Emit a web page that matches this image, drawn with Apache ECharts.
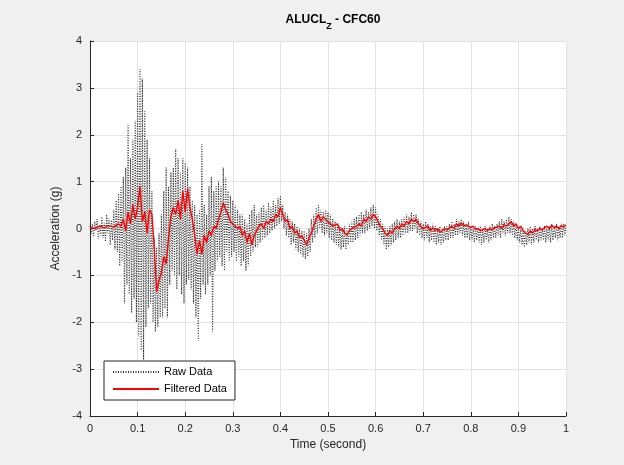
<!DOCTYPE html>
<html><head><meta charset="utf-8">
<script src="https://cdn.jsdelivr.net/npm/echarts@6/dist/echarts.min.js"></script>
<style>html,body{margin:0;padding:0;background:#f0f0f0;}#c{width:624px;height:465px;}</style>
</head><body><div id="c"></div>
<script>
// Raw data: sampled every 0.0025 s from t = 0 to 1
var rawStep = 0.0025;
var rawValues = [
0.05,-0.12,0.1,-0.18,0.15,-0.05,0.2,-0.22,0.08,-0.15,0.25,-0.2,0.12,-0.28,0.3,-0.1,0.22,-0.35,0.18,-0.25,
0.4,-0.45,0.6,-0.5,0.75,-0.8,0.9,-0.7,1.1,-1.6,1.3,-1.2,2.2,-1.4,1.5,-1.8,1.9,-1.5,2.3,-2.0,
2.9,-2.3,3.4,-2.6,3.2,-2.8,2.5,-2.1,1.9,-1.7,1.5,-1.6,0.8,-2.0,-0.2,-2.2,-0.4,-2.1,-0.1,-1.9,
0.3,-1.9,0.8,-1.7,1.3,-1.9,0.9,-1.2,1.2,-0.9,1.3,-1.0,1.7,-1.3,1.5,-1.0,1.2,-1.4,1.5,-1.6,
1.4,-1.2,1.3,-1.1,0.9,-1.3,0.6,-1.6,0.5,-1.9,0.3,-2.4,0.4,-1.5,1.8,-1.2,0.5,-1.4,0.3,-1.2,
0.9,-1.0,1.1,-2.2,0.8,-0.9,0.9,-0.7,1.0,-0.6,0.9,-0.8,1.3,-0.9,1.1,-0.5,0.8,-0.7,0.7,-0.6,
0.6,-0.5,0.5,-0.7,0.4,-0.6,0.3,-0.8,0.3,-0.7,0.2,-0.9,0.1,-0.8,0.3,-0.6,0.4,-0.5,0.5,-0.4,
0.3,-0.4,0.35,-0.3,0.45,-0.25,0.5,-0.2,0.4,-0.15,0.55,-0.1,0.45,-0.05,0.6,0.0,0.5,0.05,0.65,0.1,
0.7,0.15,0.5,0.0,0.35,-0.15,0.3,-0.2,0.2,-0.35,0.15,-0.3,0.1,-0.45,0.05,-0.5,0.0,-0.55,-0.05,-0.6,
-0.05,-0.65,-0.1,-0.6,0.0,-0.5,0.2,-0.3,0.3,-0.2,0.45,-0.1,0.5,0.0,0.4,-0.1,0.35,-0.15,0.4,-0.1,
0.35,-0.2,0.3,-0.25,0.2,-0.3,0.15,-0.35,0.1,-0.4,0.05,-0.45,0.0,-0.4,0.05,-0.45,0.0,-0.35,0.1,-0.3,
0.15,-0.3,0.2,-0.25,0.25,-0.2,0.3,-0.15,0.35,-0.1,0.3,-0.1,0.4,-0.05,0.35,0.0,0.45,0.05,0.5,0.0,
0.45,-0.05,0.3,-0.15,0.2,-0.25,0.1,-0.35,0.05,-0.45,0.0,-0.4,0.05,-0.35,0.1,-0.3,0.15,-0.25,0.2,-0.2,
0.15,-0.2,0.2,-0.15,0.25,-0.1,0.3,-0.1,0.25,-0.05,0.35,-0.05,0.3,0.0,0.3,-0.1,0.2,-0.15,0.15,-0.2,
0.1,-0.25,0.15,-0.2,0.1,-0.3,0.05,-0.25,0.1,-0.3,0.05,-0.35,0.0,-0.3,0.05,-0.35,0.0,-0.3,0.05,-0.25,
0.05,-0.25,0.1,-0.2,0.15,-0.2,0.1,-0.15,0.2,-0.15,0.15,-0.1,0.2,-0.15,0.15,-0.2,0.1,-0.2,0.15,-0.25,
0.05,-0.25,0.0,-0.3,0.05,-0.25,0.0,-0.3,0.05,-0.35,0.0,-0.3,0.05,-0.25,0.0,-0.3,0.05,-0.25,0.1,-0.2,
0.05,-0.2,0.1,-0.15,0.15,-0.2,0.2,-0.1,0.15,-0.15,0.2,-0.1,0.25,-0.1,0.2,-0.15,0.15,-0.2,0.1,-0.25,
0.05,-0.3,0.0,-0.35,0.0,-0.4,-0.05,-0.35,0.0,-0.3,0.05,-0.35,0.0,-0.3,0.05,-0.25,0.0,-0.3,0.05,-0.25,
0.0,-0.25,0.05,-0.3,0.0,-0.25,0.05,-0.3,0.1,-0.25,0.05,-0.2,0.1,-0.25,0.05,-0.2,0.1,-0.2,0.1,-0.15,
0.05
];
var filtTime = [
0,0.01,0.02,0.03,0.04,0.05,0.06,0.065,0.07,0.075,0.08,0.085,0.09,0.095,0.1,0.105,0.11,0.115,0.12,0.125,
0.13,0.135,0.14,0.145,0.15,0.155,0.16,0.165,0.17,0.175,0.18,0.185,0.19,0.195,0.2,0.205,0.21,0.215,0.22,0.225,
0.23,0.235,0.24,0.245,0.25,0.255,0.26,0.265,0.27,0.275,0.28,0.285,0.29,0.295,0.3,0.31,0.315,0.32,0.325,0.33,
0.335,0.34,0.345,0.35,0.355,0.36,0.365,0.37,0.375,0.38,0.385,0.39,0.395,0.4,0.405,0.41,0.415,0.42,0.425,0.43,
0.435,0.44,0.445,0.45,0.455,0.46,0.465,0.47,0.475,0.48,0.485,0.49,0.495,0.5,0.51,0.52,0.525,0.53,0.535,0.54,
0.545,0.55,0.56,0.565,0.57,0.575,0.58,0.585,0.59,0.595,0.6,0.605,0.61,0.615,0.62,0.625,0.63,0.635,0.64,0.645,
0.65,0.655,0.66,0.665,0.67,0.675,0.68,0.685,0.69,0.695,0.7,0.71,0.715,0.72,0.725,0.73,0.735,0.74,0.745,0.75,
0.76,0.765,0.77,0.775,0.78,0.785,0.79,0.8,0.805,0.81,0.815,0.82,0.83,0.835,0.84,0.845,0.85,0.86,0.865,0.87,
0.875,0.88,0.885,0.89,0.895,0.9,0.905,0.91,0.915,0.92,0.925,0.93,0.935,0.94,0.945,0.95,0.955,0.96,0.965,0.97,
0.975,0.98,0.985,0.99,0.995,1.0
];
var filtValues = [
0.02,0.0,0.05,0.02,0.06,0.03,0.1,0.05,0.2,-0.05,0.35,0.1,0.5,0.2,0.45,0.9,0.15,0.35,-0.1,0.4,
0.3,-0.4,-1.35,-1.1,-0.95,-0.6,-0.75,-0.2,0.25,0.45,0.3,0.6,0.2,0.8,0.35,0.85,0.45,0.2,-0.15,-0.55,
-0.25,-0.55,-0.15,-0.3,-0.05,-0.15,0.05,0.0,0.2,0.35,0.55,0.4,0.3,0.15,0.1,0.0,0.05,-0.15,-0.05,-0.3,
-0.1,-0.35,-0.15,-0.05,0.05,0.1,0.0,0.15,0.1,0.2,0.15,0.3,0.25,0.45,0.3,0.15,0.2,0.0,0.05,-0.1,
-0.05,-0.2,-0.15,-0.25,-0.35,-0.2,-0.1,0.05,0.2,0.3,0.15,0.25,0.2,0.15,0.05,0.1,-0.05,0.0,-0.1,-0.13,
-0.05,0.0,0.05,0.1,0.05,0.2,0.15,0.25,0.2,0.3,0.25,0.15,0.05,0.0,-0.1,-0.15,-0.05,-0.1,0.0,0.05,
0.0,0.1,0.05,0.15,0.1,0.2,0.15,0.2,0.1,0.05,0.0,0.05,-0.05,0.02,-0.05,0.0,-0.08,-0.05,0.0,-0.03,
0.05,0.0,0.1,0.05,0.12,0.05,0.08,0.02,0.05,-0.02,0.0,-0.05,0.0,-0.05,0.0,-0.03,0.02,0.05,0.0,0.08,
0.05,0.1,0.15,0.05,0.1,0.0,0.05,-0.05,-0.1,-0.13,-0.05,-0.1,-0.02,-0.05,0.0,-0.03,0.02,0.05,0.0,0.07,
0.02,0.05,0.0,0.06,0.03,0.08
];
var xTicks = [0,0.1,0.2,0.3,0.4,0.5,0.6,0.7,0.8,0.9,1];
var yTicks = [-4,-3,-2,-1,0,1,2,3,4];

var rawData = rawValues.map(function(v,i){return [i*rawStep, v];});
var filtData = filtTime.map(function(t,i){return [t, filtValues[i]];});

var chart = echarts.init(document.getElementById('c'), null, {renderer:'canvas'});
var font = 'Liberation Sans, Arial, Helvetica, sans-serif';
chart.setOption({
  backgroundColor:'#f0f0f0',
  animation:false,
  textStyle:{fontFamily:font},
  title:{
    text:'{a|ALUCL}{s|Z}{a| - CFC60}',
    left:328, top:9, textAlign:'center',
    textStyle:{rich:{
      a:{fontFamily:font,fontWeight:'bold',fontSize:12,color:'#000',verticalAlign:'top'},
      s:{fontFamily:font,fontWeight:'bold',fontSize:9,color:'#000',padding:[8,0,0,0]}
    }}
  },
  grid:{left:90, right:58, top:41, bottom:49, show:true, backgroundColor:'#ffffff', borderWidth:0},
  legend:{
    orient:'vertical', left:104, top:361,
    backgroundColor:'#ffffff', borderColor:'#262626', borderWidth:1, borderRadius:0,
    padding:[5,8,5,8], itemGap:5, itemWidth:46, itemHeight:15,
    itemStyle:{opacity:0},
    textStyle:{fontFamily:font,fontSize:11,color:'#000'},
    data:['Raw Data','Filtered Data']
  },
  xAxis:{
    type:'value', min:0, max:1, interval:0.1,
    name:'Time (second)', nameLocation:'middle', nameGap:22,
    nameTextStyle:{fontFamily:font,fontSize:12,color:'#262626'},
    axisLine:{show:true,onZero:false,lineStyle:{color:'#262626',width:1}},
    axisTick:{show:true,inside:true,length:4,lineStyle:{color:'#262626'}},
    axisLabel:{fontFamily:font,fontSize:11,color:'#262626',margin:7,
      formatter:function(v){var r=Math.round(v*10)/10; return xTicks.indexOf(r)>=0 ? String(r) : '';}},
    splitLine:{show:true,lineStyle:{color:'#e3e3e3',width:1}}
  },
  yAxis:{
    type:'value', min:-4, max:4, interval:1,
    name:'Acceleration (g)', nameLocation:'middle', nameGap:24,
    nameTextStyle:{fontFamily:font,fontSize:12,color:'#262626'},
    axisLine:{show:true,onZero:false,lineStyle:{color:'#262626',width:1}},
    axisTick:{show:true,inside:true,length:4,lineStyle:{color:'#262626'}},
    axisLabel:{fontFamily:font,fontSize:11,color:'#262626',margin:8,
      formatter:function(v){return yTicks.indexOf(v)>=0 ? String(v) : '';}},
    splitLine:{show:true,lineStyle:{color:'#e3e3e3',width:1}}
  },
  series:[
    {name:'Raw Data', type:'line', data:rawData, symbol:'none', z:2,
     lineStyle:{color:'#000000', width:1.1, type:[1,1.5], opacity:0.8},
     itemStyle:{color:'#000000'}},
    {name:'Filtered Data', type:'line', data:filtData, symbol:'none', z:3,
     lineStyle:{color:'#ff0000', width:1.4},
     itemStyle:{color:'#ff0000'}}
  ]
});
</script>
</body></html>
